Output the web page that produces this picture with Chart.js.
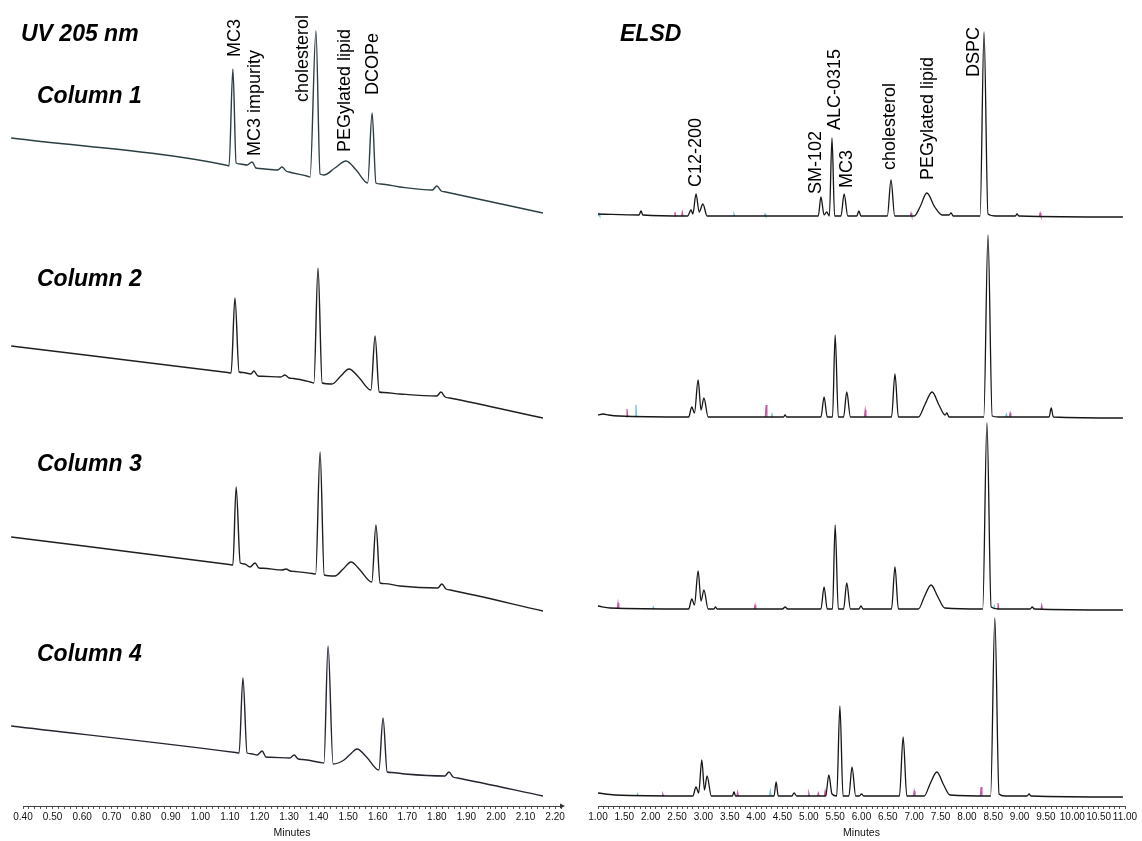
<!DOCTYPE html>
<html lang="en">
<head>
  <meta charset="UTF-8" />
  <title>UV 205 nm and ELSD chromatograms, columns 1-4</title>
  <script src="https://cdn.jsdelivr.net/npm/chart.js"></script>
  <style>
    html, body {
      margin: 0;
      padding: 0;
      background: white;
    }
    #wrap {
      position: relative;
      width: 1142px;
      height: 841px;
      overflow: hidden;
      font-family: "Liberation Sans", Arial, sans-serif;
    }
    .panel {
      position: absolute;
      top: 0;
      height: 841px;
    }
    .title {
      position: absolute;
      font-size: 23px;
      font-weight: bold;
      font-style: italic;
      line-height: 1;
      white-space: nowrap;
      color: #000;
    }
    .peak {
      position: absolute;
      font-size: 18px;
      line-height: 1;
      white-space: nowrap;
      color: #000;
      transform-origin: 0 0;
      transform: rotate(-90deg);
    }
  </style>
</head>
<body>
  <div id="wrap">
    <div class="panel" style="left:0;width:571px"><canvas id="uv"></canvas></div>
    <div class="panel" style="left:575px;width:567px"><canvas id="elsd"></canvas></div>

    <div class="title" style="left:21px;top:22px">UV 205 nm</div>
    <div class="title" style="left:37px;top:84px">Column 1</div>
    <div class="title" style="left:37px;top:267px">Column 2</div>
    <div class="title" style="left:37px;top:452px">Column 3</div>
    <div class="title" style="left:37px;top:642px">Column 4</div>
    <div class="title" style="left:620px;top:22px">ELSD</div>

    <div class="peak" style="left:225px;top:57px">MC3</div>
    <div class="peak" style="left:245px;top:156px">MC3 impurity</div>
    <div class="peak" style="left:293px;top:102px">cholesterol</div>
    <div class="peak" style="left:335px;top:152px">PEGylated lipid</div>
    <div class="peak" style="left:363px;top:95px">DCOPe</div>

    <div class="peak" style="left:686px;top:187px">C12-200</div>
    <div class="peak" style="left:806px;top:194px">SM-102</div>
    <div class="peak" style="left:825px;top:130px">ALC-0315</div>
    <div class="peak" style="left:837px;top:188px">MC3</div>
    <div class="peak" style="left:880px;top:170px">cholesterol</div>
    <div class="peak" style="left:918px;top:180px">PEGylated lipid</div>
    <div class="peak" style="left:964px;top:77px">DSPC</div>
  </div>

  <script>
    // UV 205 nm traces: retention time (min) and response
    const uvTime1 = [0.36, 1.085, 1.097, 1.110, 1.121, 1.135, 1.158, 1.175, 1.188, 1.200, 1.262, 1.276, 1.290, 1.300, 1.360, 1.371, 1.391, 1.405, 1.418, 1.455, 1.493, 1.527, 1.566, 1.581, 1.594, 1.610, 1.675, 1.785, 1.800, 1.815, 1.830, 2.159];
    const uvSig1  = [75, 48, 47, 144, 50, 49, 48, 51, 45, 44.5, 43, 46, 42, 41, 37, 36, 182, 39, 38, 45, 52, 43, 30, 100, 30, 29, 26, 23, 27, 22, 21, 0];

    const uvTime2 = [0.36, 1.092, 1.104, 1.117, 1.131, 1.145, 1.171, 1.181, 1.195, 1.210, 1.272, 1.286, 1.300, 1.315, 1.372, 1.384, 1.398, 1.412, 1.445, 1.475, 1.503, 1.535, 1.577, 1.591, 1.605, 1.620, 1.675, 1.800, 1.814, 1.828, 1.843, 2.159];
    const uvSig2  = [72, 45.5, 45, 120, 46, 45.5, 44, 47, 42, 41.8, 41, 43, 40, 39.5, 36, 35, 150, 35, 34, 42, 49, 41, 28, 82, 26, 25.5, 24, 22, 26, 21, 20, 0];

    const uvTime3 = [0.36, 1.098, 1.110, 1.121, 1.135, 1.150, 1.168, 1.185, 1.198, 1.213, 1.276, 1.290, 1.304, 1.320, 1.378, 1.390, 1.405, 1.419, 1.455, 1.483, 1.510, 1.540, 1.580, 1.594, 1.608, 1.623, 1.675, 1.803, 1.817, 1.831, 1.846, 2.159];
    const uvSig3  = [74, 46.5, 46, 124, 48, 47, 44, 48, 43, 42.7, 41, 42, 40, 39.5, 37.5, 37, 159, 36, 35, 42, 49, 41, 29, 86, 28, 27.4, 25, 23, 27, 22, 21, 0];

    const uvTime4 = [0.36, 1.119, 1.131, 1.144, 1.158, 1.172, 1.192, 1.209, 1.222, 1.237, 1.303, 1.317, 1.331, 1.346, 1.406, 1.418, 1.432, 1.449, 1.486, 1.508, 1.530, 1.562, 1.604, 1.618, 1.632, 1.647, 1.692, 1.827, 1.841, 1.855, 1.870, 2.159];
    const uvSig4  = [70, 43.5, 43, 118, 43, 42.3, 41, 45, 39, 38.8, 38, 41, 37, 36.5, 33.5, 33, 150, 32, 36, 42, 47, 39, 26, 78, 24, 23.5, 22, 20, 24, 19, 18, 0];

    // vertical stacking of the four UV runs
    const uvOffset = [593, 388, 195, 10];

    // ELSD traces
    const elTime1 = [1.00, 1.78, 1.816, 1.85, 2.70, 2.765, 2.80, 2.86, 2.92, 2.99, 3.07, 5.18, 5.23, 5.29, 5.34, 5.39, 5.44, 5.49, 5.61, 5.67, 5.74, 5.91, 5.95, 5.99, 6.49, 6.56, 6.63, 7.00, 7.11, 7.24, 7.39, 7.53, 7.66, 7.70, 7.74, 8.25, 8.325, 8.40, 8.55, 8.92, 8.95, 8.99, 10.96];
    const elSig1  = [2, 1, 5, 1, 0, 6, 2, 22, 4, 12, 0, 0, 19, 1, 4, 0, 78, 0, 0, 22, 0, 0, 5, 0, 0, 36, 0, 0, 9, 23, 9, 1, 1, 3, 0, 0, 184, 2, 0, 0, 2, 0, -1];

    const elTime2 = [1.00, 1.10, 1.20, 1.40, 2.72, 2.78, 2.83, 2.90, 2.955, 3.01, 3.09, 4.52, 4.55, 4.58, 5.23, 5.29, 5.35, 5.45, 5.50, 5.56, 5.66, 5.72, 5.79, 6.57, 6.635, 6.70, 7.08, 7.20, 7.34, 7.47, 7.585, 7.62, 7.66, 8.32, 8.40, 8.48, 8.60, 9.56, 9.60, 9.64, 10.96];
    const elSig2  = [2, 3, 2, 1, 0, 10, 4, 37, 7, 19, 0, 0, 2, 0, 0, 20, 0, 0, 82, 0, 0, 25, 0, 0, 43, 0, 0, 12, 25, 12, 2, 4, 0, 0, 182, 1, 0, 0, 9, 0, -1];

    const elTime3 = [1.00, 1.23, 2.72, 2.78, 2.83, 2.90, 2.955, 3.01, 3.09, 3.20, 3.23, 3.26, 4.50, 4.55, 4.60, 5.23, 5.29, 5.35, 5.45, 5.50, 5.56, 5.66, 5.72, 5.79, 5.95, 5.99, 6.03, 6.57, 6.635, 6.70, 7.08, 7.19, 7.32, 7.45, 7.58, 8.30, 8.38, 8.46, 8.60, 9.20, 9.24, 9.28, 10.96];
    const elSig3  = [3, 1, 0, 10, 4, 38, 8, 19, 0, 0, 2, 0, 0, 2, 0, 0, 22, 0, 0, 84, 0, 0, 26, 0, 0, 3, 0, 0, 42, 0, 0, 12, 24, 12, 1, 0, 186, 2, 0, 0, 2, 0, -1];

    const elTime4 = [1.00, 1.32, 2.80, 2.86, 2.91, 2.97, 3.02, 3.07, 3.15, 3.55, 3.58, 3.61, 4.34, 4.38, 4.42, 4.68, 4.72, 4.77, 5.32, 5.38, 5.44, 5.53, 5.59, 5.65, 5.76, 5.82, 5.89, 5.96, 6.00, 6.04, 6.72, 6.79, 6.86, 7.19, 7.30, 7.43, 7.56, 7.68, 8.45, 8.53, 8.61, 8.72, 9.14, 9.18, 9.22, 10.96];
    const elSig4  = [3, 1, 0, 9, 3, 36, 6, 20, 0, 0, 4, 0, 0, 14, 0, 0, 3, 0, 0, 21, 2, 0, 90, 0, 0, 29, 0, 0, 2, 0, 0, 59, 0, 0, 12, 24, 11, 1, 0, 178, 2, 0, 0, 2, 0, -1];

    const elsdOffset = [590, 389, 197, 10];

    // faint replicate overlays (magenta / cyan): [time, height]
    const elMagenta = [
      [[2.46, 4], [2.60, 4], [6.94, 3], [9.39, 3]],
      [[1.55, 8], [4.19, 12], [6.07, 7], [8.82, 4]],
      [[1.38, 6], [3.98, 4], [8.59, 6], [9.42, 4]],
      [[2.23, 2], [3.65, 4], [5.00, 3], [5.18, 3], [5.31, 5], [7.00, 5], [8.27, 9]]
    ];
    const elCyan = [
      [[1.02, 2], [3.58, 2], [4.17, 2]],
      [[1.72, 12], [4.30, 4], [8.75, 3]],
      [[2.05, 2], [8.52, 3]],
      [[1.75, 2], [4.27, 5]]
    ];

    const uvTickLabels = ['0.40', '0.50', '0.60', '0.70', '0.80', '0.90', '1.00', '1.10', '1.20', '1.30', '1.40', '1.50', '1.60', '1.70', '1.80', '1.90', '2.00', '2.10', '2.20'];
    const elTickLabels = ['1.00', '1.50', '2.00', '2.50', '3.00', '3.50', '4.00', '4.50', '5.00', '5.50', '6.00', '6.50', '7.00', '7.50', '8.00', '8.50', '9.00', '9.50', '10.00', '10.50', '11.00'];

    Chart.defaults.font.family = "'Liberation Sans', Arial, sans-serif";
    Chart.defaults.color = '#111';

    function trace(times, sig, off) {
      return times.map((t, i) => ({ x: t, y: sig[i] + off }));
    }

    function spikes(list, off) {
      const pts = [];
      list.slice().sort((a, b) => a[0] - b[0]).forEach(([t, h]) => {
        pts.push({ x: t - 0.015, y: off }, { x: t, y: off + h }, { x: t + 0.015, y: off }, { x: t + 0.016, y: null });
      });
      return pts;
    }

    // arrow head at the right end of the UV time axis
    const axisArrow = {
      id: 'axisArrow',
      afterDraw(chart) {
        const { ctx, chartArea } = chart;
        const x = chartArea.right, y = chartArea.bottom;
        ctx.save();
        ctx.fillStyle = '#333';
        ctx.beginPath();
        ctx.moveTo(x + 4, y);
        ctx.lineTo(x - 1, y - 2.5);
        ctx.lineTo(x - 1, y + 2.5);
        ctx.closePath();
        ctx.fill();
        ctx.restore();
      }
    };

    function makeChart(id, datasets, xmin, xmax, step, tickLabels, padRight, extraPlugins) {
      return new Chart(document.getElementById(id), {
        type: 'line',
        data: { datasets: datasets },
        options: {
          responsive: true,
          maintainAspectRatio: false,
          animation: false,
          events: [],
          layout: { padding: { left: 23, right: padRight, top: 0, bottom: 0 } },
          plugins: { legend: { display: false }, tooltip: { enabled: false } },
          elements: {
            point: { radius: 0 },
            line: { borderWidth: 1.3, cubicInterpolationMode: 'monotone', capBezierPoints: false }
          },
          scales: {
            x: {
              type: 'linear',
              min: xmin,
              max: xmax,
              afterFit: s => { s.height = 35; },
              border: { display: true, color: '#444', width: 1 },
              grid: { drawOnChartArea: false, drawTicks: true, tickLength: 3, color: '#555' },
              ticks: {
                stepSize: step,
                autoSkip: false,
                maxRotation: 0,
                padding: 2,
                font: { size: 10 },
                color: '#111',
                callback: v => {
                  const s = Number(v).toFixed(2);
                  return tickLabels.includes(s) ? s : '';
                }
              },
              title: { display: true, text: 'Minutes', font: { size: 10.5 }, color: '#111', padding: { top: 0, bottom: 2 } }
            },
            y: { display: false, min: 0, max: 806 }
          }
        },
        plugins: extraPlugins
      });
    }

    const uvColors = ['#2b3e44', '#1f1f22', '#1f1f22', '#262430'];
    const uvSets = [
      [uvTime1, uvSig1], [uvTime2, uvSig2], [uvTime3, uvSig3], [uvTime4, uvSig4]
    ].map(([t, s], i) => ({
      label: 'Column ' + (i + 1),
      data: trace(t, s, uvOffset[i]),
      borderColor: uvColors[i],
      borderWidth: 1.4,
      clip: false
    }));

    makeChart('uv', uvSets, 0.40, 2.22, 0.02, uvTickLabels, 10, [axisArrow]);

    // black runs first so they are drawn over the coloured replicate marks
    const elRuns = [[elTime1, elSig1], [elTime2, elSig2], [elTime3, elSig3], [elTime4, elSig4]];
    const elSets = [];
    elRuns.forEach(([t, s], i) => {
      elSets.push({ label: 'Column ' + (i + 1), data: trace(t, s, elsdOffset[i]), borderColor: '#161616', borderWidth: 1.3, clip: false });
    });
    elRuns.forEach((r, i) => {
      elSets.push({ label: 'rep A ' + (i + 1), data: spikes(elMagenta[i], elsdOffset[i]), borderColor: '#c25aa2', borderWidth: 1.2, tension: 0, cubicInterpolationMode: 'default', clip: false });
      elSets.push({ label: 'rep B ' + (i + 1), data: spikes(elCyan[i], elsdOffset[i]), borderColor: '#6cc6cf', borderWidth: 1.2, tension: 0, cubicInterpolationMode: 'default', clip: false });
    });

    makeChart('elsd', elSets, 1.00, 11.00, 0.10, elTickLabels, 17, []);
  </script>
</body>
</html>
